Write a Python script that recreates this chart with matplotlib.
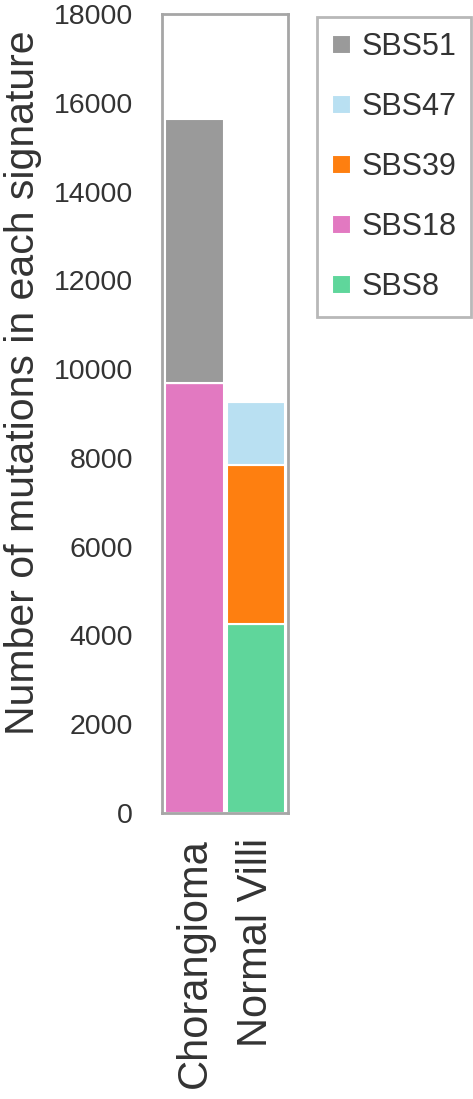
import matplotlib.pyplot as plt
import numpy as np

plt.rcParams['font.family'] = ['Liberation Sans', 'DejaVu Sans']

samples = ['Chorangioma', 'Normal Villi']
signatures = ['SBS8', 'SBS18', 'SBS39', 'SBS47', 'SBS51']
counts = {
    'SBS8': [0, 4260],
    'SBS18': [9680, 0],
    'SBS39': [0, 3590],
    'SBS47': [0, 1420],
    'SBS51': [5960, 0],
}
colors = {
    'SBS8': '#5fd69b',
    'SBS18': '#e279c1',
    'SBS39': '#fe7f10',
    'SBS47': '#b9e0f2',
    'SBS51': '#9a9a9a',
}

fig = plt.figure(figsize=(4.73, 10.99), dpi=100)
ax = fig.add_axes([0.3425, 0.2602, 0.2664, 0.7271])

x = np.arange(len(samples))
bottom = np.zeros(len(samples))
handles = {}
for sig in signatures:
    vals = np.array(counts[sig], dtype=float)
    bars = ax.bar(x, vals, width=0.95, bottom=bottom, color=colors[sig],
                  edgecolor='white', linewidth=1.5, label=sig)
    handles[sig] = bars
    bottom += vals

ax.set_xlim(-0.53, 1.52)
ax.set_ylim(0, 18000)
ax.set_yticks(range(0, 18001, 2000))
ax.set_xticks(x)
ax.set_xticklabels(samples, rotation=90, fontsize=30, color='#333333')
ax.tick_params(axis='y', length=0, pad=21, labelsize=20.5, labelcolor='#333333')
ax.tick_params(axis='x', length=0, pad=18)

for sp in ax.spines.values():
    sp.set_color('#a6a6a6')
    sp.set_linewidth(2)

ax.set_ylabel('Number of mutations in each signature', fontsize=29.5, color='#333333')
ax.yaxis.set_label_coords(-0.95, 0.539)

order = signatures[::-1]
leg = fig.legend([handles[s] for s in order], order, loc='upper left',
                 bbox_to_anchor=(0.670, 0.9845), fontsize=22, frameon=True,
                 fancybox=False, edgecolor='#a6a6a6', borderaxespad=0,
                 handlelength=0.6, handleheight=0.6, handletextpad=0.35,
                 labelspacing=0.98, borderpad=0.5)
leg.get_frame().set_linewidth(2)
for t in leg.get_texts():
    t.set_color('#333333')

fig.savefig('out.png', dpi=100)
